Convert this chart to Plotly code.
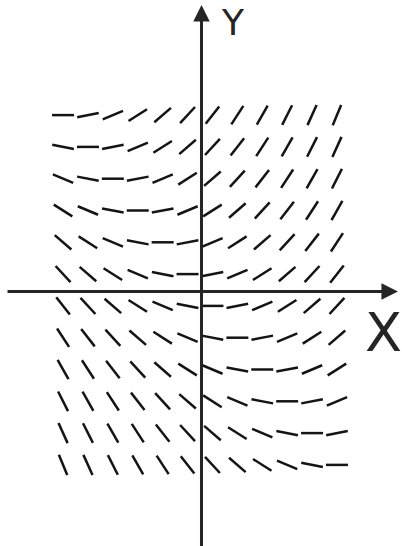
import plotly.graph_objects as go
import math

# Grid of sample points for the slope field dy/dx = f(x + y)
grid_x = [-5.5, -4.5, -3.5, -2.5, -1.5, -0.5, 0.5, 1.5, 2.5, 3.5, 4.5, 5.5]
grid_y = [5.5, 4.5, 3.5, 2.5, 1.5, 0.5, -0.5, -1.5, -2.5, -3.5, -4.5, -5.5]

# Slope (dy/dx) for each value of x + y
sum_values = [-11, -10, -9, -8, -7, -6, -5, -4, -3, -2, -1, 0,
              1, 2, 3, 4, 5, 6, 7, 8, 9, 10, 11]
slope_values = [-1.9, -1.72, -1.55, -1.38, -1.2, -1.0, -0.85, -0.68, -0.5, -0.33, -0.15, 0.0,
                0.15, 0.33, 0.5, 0.68, 0.85, 1.0, 1.2, 1.38, 1.55, 1.72, 1.9]
slope_by_sum = dict(zip(sum_values, slope_values))

W, H = 402, 546
PX_X = 24.9     # pixels per x unit
PX_Y = 31.8     # pixels per y unit
ORIGIN = (200, 290)
SEG_LEN = 22    # segment length in pixels

x_range = [-ORIGIN[0] / PX_X, (W - ORIGIN[0]) / PX_X]
y_range = [-(H - ORIGIN[1]) / PX_Y, ORIGIN[1] / PX_Y]

seg_x, seg_y = [], []
for yv in grid_y:
    for xv in grid_x:
        m = slope_by_sum[int(round(xv + yv))]
        ang = math.atan(m * PX_Y / PX_X)
        hx = SEG_LEN / 2 * math.cos(ang) / PX_X
        hy = SEG_LEN / 2 * math.sin(ang) / PX_Y
        seg_x += [xv - hx, xv + hx, None]
        seg_y += [yv - hy, yv + hy, None]

fig = go.Figure()
fig.add_trace(go.Scatter(
    x=seg_x, y=seg_y, mode="lines",
    line=dict(color="#141414", width=2.5),
    hoverinfo="skip", showlegend=False,
))

axis_color = "#252525"
annotations = [
    # horizontal axis with arrow
    dict(x=7.95, y=-0.05, ax=-7.79, ay=-0.05, xref="x", yref="y",
         axref="x", ayref="y", text="", showarrow=True,
         arrowhead=2, arrowsize=1.1, arrowwidth=3, arrowcolor=axis_color),
    # vertical axis with arrow
    dict(x=0.06, y=8.96, ax=0.06, ay=-8.3, xref="x", yref="y",
         axref="x", ayref="y", text="", showarrow=True,
         arrowhead=2, arrowsize=1.1, arrowwidth=3, arrowcolor=axis_color),
    dict(x=1.33, y=8.4, xref="x", yref="y", text="Y", showarrow=False,
         font=dict(family="DejaVu Sans", size=36, color=axis_color)),
    dict(x=7.35, y=-1.35, xref="x", yref="y", text="X", showarrow=False,
         font=dict(family="DejaVu Sans", size=54, color=axis_color)),
]

fig.update_layout(
    width=W, height=H,
    margin=dict(l=0, r=0, t=0, b=0),
    paper_bgcolor="white", plot_bgcolor="white",
    xaxis=dict(range=x_range, visible=False, fixedrange=True),
    yaxis=dict(range=y_range, visible=False, fixedrange=True),
    annotations=annotations,
    showlegend=False,
)

fig.write_html("out.html")
